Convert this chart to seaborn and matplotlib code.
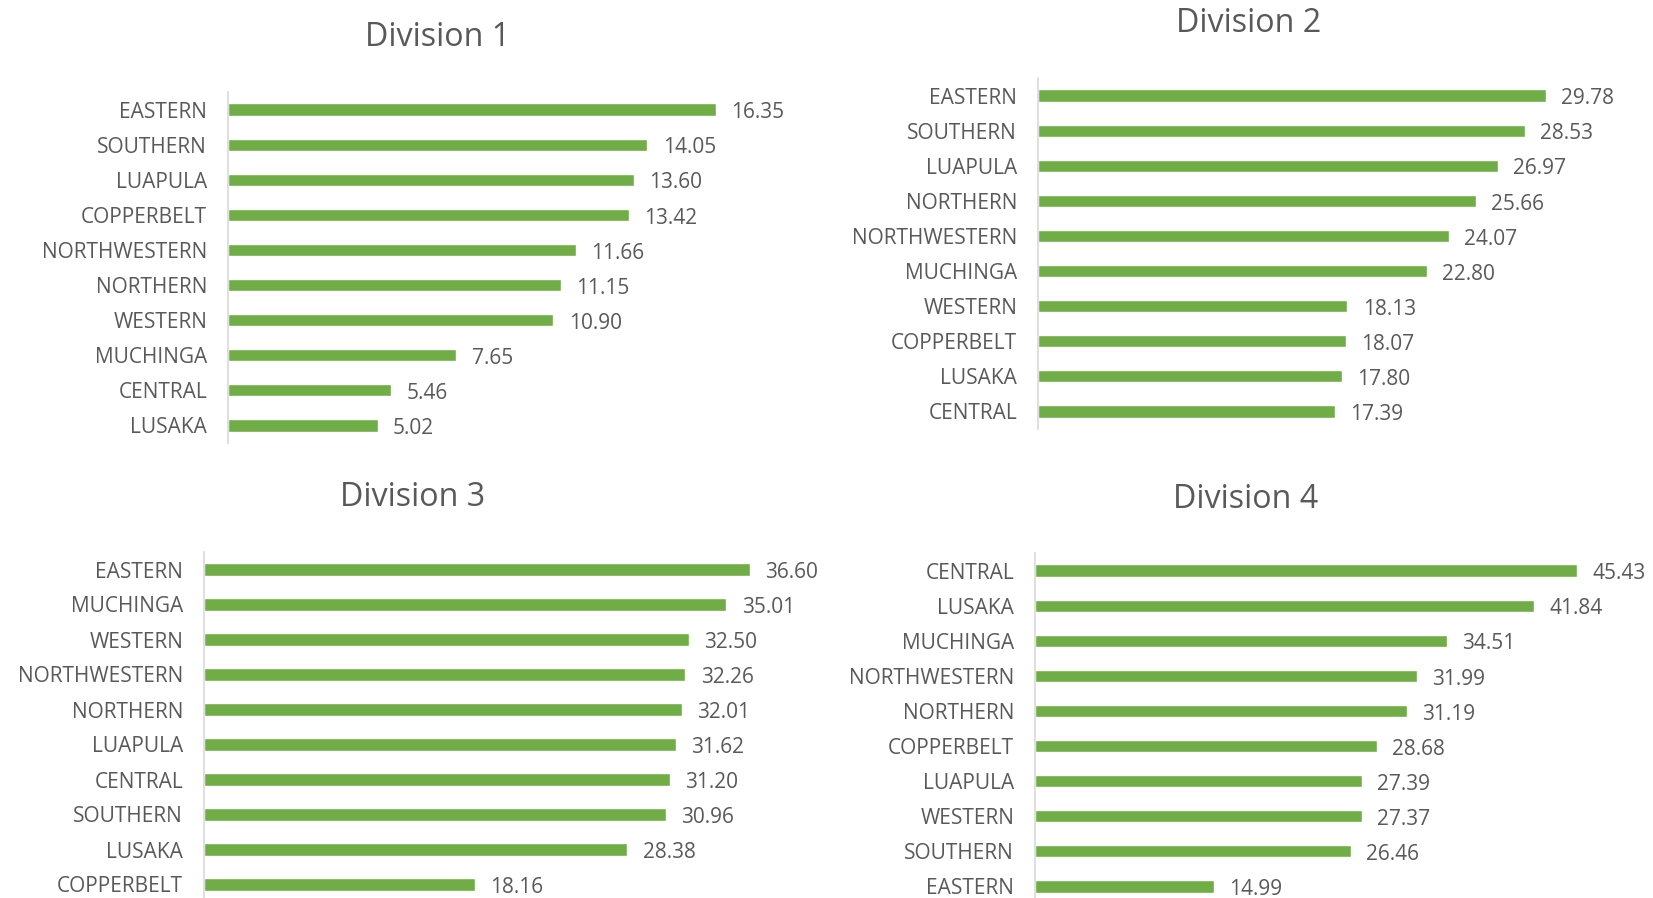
import seaborn as sns
import matplotlib.pyplot as plt
import pandas as pd

# values
div1_regions = ["EASTERN", "SOUTHERN", "LUAPULA", "COPPERBELT", "NORTHWESTERN",
                "NORTHERN", "WESTERN", "MUCHINGA", "CENTRAL", "LUSAKA"]
div1_values = [16.35, 14.05, 13.60, 13.42, 11.66, 11.15, 10.90, 7.65, 5.46, 5.02]

div2_regions = ["EASTERN", "SOUTHERN", "LUAPULA", "NORTHERN", "NORTHWESTERN",
                "MUCHINGA", "WESTERN", "COPPERBELT", "LUSAKA", "CENTRAL"]
div2_values = [29.78, 28.53, 26.97, 25.66, 24.07, 22.80, 18.13, 18.07, 17.80, 17.39]

div3_regions = ["EASTERN", "MUCHINGA", "WESTERN", "NORTHWESTERN", "NORTHERN",
                "LUAPULA", "CENTRAL", "SOUTHERN", "LUSAKA", "COPPERBELT"]
div3_values = [36.60, 35.01, 32.50, 32.26, 32.01, 31.62, 31.20, 30.96, 28.38, 18.16]

div4_regions = ["CENTRAL", "LUSAKA", "MUCHINGA", "NORTHWESTERN", "NORTHERN",
                "COPPERBELT", "LUAPULA", "WESTERN", "SOUTHERN", "EASTERN"]
div4_values = [45.43, 41.84, 34.51, 31.99, 31.19, 28.68, 27.39, 27.37, 26.46, 14.99]

titles = ["Division 1", "Division 2", "Division 3", "Division 4"]

GREEN = "#70AD47"
TEXT = "#595959"
W, H = 1653, 898

sns.set_style("white")
plt.rcParams["font.family"] = ["Open Sans", "DejaVu Sans"]

fig = plt.figure(figsize=(W / 100, H / 100), dpi=100)

# (axis x, top, bottom, px per unit, xmax, title x, title y) in pixels
layout = [
    (228, 92, 443, 29.85, 18, 438, 38),
    (1038, 78, 429, 17.06, 32, 1249, 24),
    (204, 552, 902, 14.92, 40, 413, 498),
    (1035, 553, 904, 11.93, 50, 1246, 499),
]

panels = [
    (div1_regions, div1_values),
    (div2_regions, div2_values),
    (div3_regions, div3_values),
    (div4_regions, div4_values),
]

for (regions, values), title, (x0, top, bot, ppu, xmax, tx, ty) in zip(panels, titles, layout):
    df = pd.DataFrame({"Region": regions, "Value": values})
    ax = fig.add_axes([x0 / W, 1 - bot / H, xmax * ppu / W, (bot - top) / H])
    sns.barplot(data=df, y="Region", x="Value", orient="h", color=GREEN,
                width=0.35, saturation=1, ax=ax)
    ax.set_xlim(0, xmax)
    ax.set_ylim(len(regions) - 0.5, -0.5)
    ax.set_xlabel("")
    ax.set_ylabel("")
    ax.set_xticks([])
    for side in ["top", "right", "bottom"]:
        ax.spines[side].set_visible(False)
    ax.spines["left"].set_color("#D9D9D9")
    ax.spines["left"].set_linewidth(1.2)
    ax.tick_params(axis="y", length=0, pad=15, labelsize=15, labelcolor=TEXT)
    for lbl in ax.get_yticklabels():
        lbl.set_verticalalignment("center_baseline")
    for i, v in enumerate(values):
        ax.annotate(f"{v:.2f}", xy=(v, i), xytext=(11, -0.5), textcoords="offset points",
                    ha="left", va="center_baseline", fontsize=15, color=TEXT,
                    annotation_clip=False)
    fig.text(tx / W, 1 - ty / H, title, ha="center", va="center",
             fontsize=23.2, color=TEXT)

plt.savefig("out.png", dpi=100)
